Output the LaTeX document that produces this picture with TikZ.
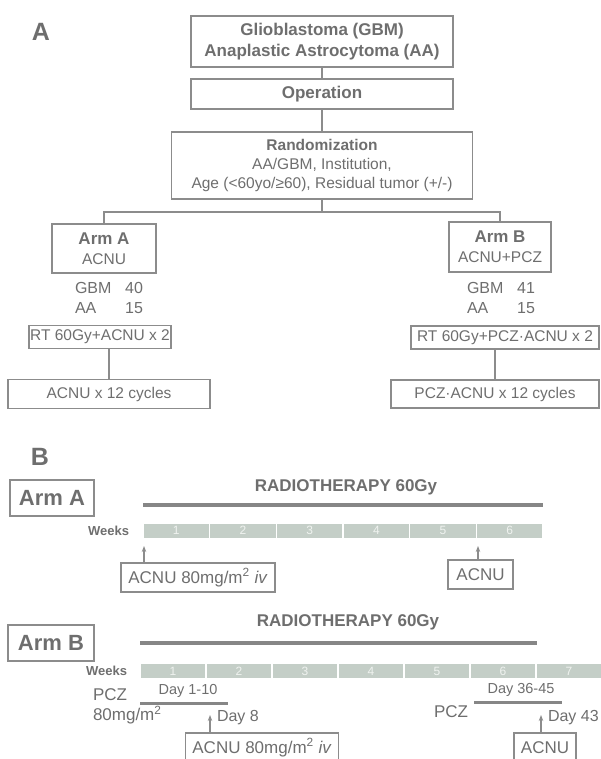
\documentclass[tikz,border=0pt]{standalone}
\usepackage{fontspec}
\setmainfont{Liberation Sans}
\usetikzlibrary{arrows.meta}
\definecolor{txt}{HTML}{6E6E6E}
\definecolor{ln}{HTML}{8C8C8C}
\definecolor{rtl}{HTML}{868686}
\definecolor{barc}{HTML}{C4CEC7}
\definecolor{digit}{HTML}{F0F3F0}
\begin{document}
\begin{tikzpicture}[x=1pt,y=-1pt,
  every node/.style={text=txt, inner sep=0pt, outer sep=0pt},
  boxed/.style={draw=ln, line width=1.7pt, align=center},
  conn/.style={draw=ln, line width=1.7pt},
  rtline/.style={draw=rtl, line width=4pt},
  pczline/.style={draw=rtl, line width=3pt},
  arr/.style={draw=ln, line width=1.1pt, -{Stealth[length=6pt,width=4.5pt]}},
  fbig/.style={font=\fontsize{25}{28}\selectfont\bfseries},
  ftitle/.style={font=\fontsize{17}{21}\selectfont\bfseries},
  fnorm/.style={font=\fontsize{15.5}{19}\selectfont},
  fmid/.style={font=\fontsize{16}{19}\selectfont},
  fdose/.style={font=\fontsize{17}{20}\selectfont},
  fday/.style={font=\fontsize{14.5}{17}\selectfont},
  fweeks/.style={font=\fontsize{13}{15}\selectfont\bfseries},
  fdigit/.style={font=\fontsize{12}{14}\selectfont, text=digit},
  farm/.style={font=\fontsize{22}{26}\selectfont\bfseries}
]
\useasboundingbox (0,0) rectangle (601,759);
\clip (0,0) rectangle (601,759);

% ---------------- Panel A ----------------
\node[fbig] (lblA) at (41,32) {A};

\node[boxed, ftitle, minimum width=262pt, minimum height=51pt] (b1) at (322,41.5)
  {Glioblastoma (GBM)\\Anaplastic Astrocytoma (AA)};
\node[boxed, ftitle, minimum width=262pt, minimum height=30pt] (b2) at (322,94) {Operation};
\node[boxed, fnorm, minimum width=301pt, minimum height=67pt] (b3) at (322,165.5)
  {{\bfseries Randomization}\\AA/GBM, Institution,\\Age (<60yo/≥60), Residual tumor (+/-)};

\node[boxed, fnorm, minimum width=104pt, minimum height=49pt] (armA) at (104,248.5)
  {{\fontsize{17}{20}\selectfont\bfseries Arm A}\\[1pt]ACNU};
\node[boxed, fnorm, minimum width=102pt, minimum height=50pt] (armB) at (500,247)
  {{\fontsize{17}{20}\selectfont\bfseries Arm B}\\[1pt]ACNU+PCZ};

\node[fmid, anchor=west] (gbmA) at (75,288) {GBM};
\node[fmid, anchor=east] (gbmAn) at (143,288) {40};
\node[fmid, anchor=west] (aaA) at (75,308) {AA};
\node[fmid, anchor=east] (aaAn) at (143,308) {15};
\node[fmid, anchor=west] (gbmB) at (467,288) {GBM};
\node[fmid, anchor=east] (gbmBn) at (535,288) {41};
\node[fmid, anchor=west] (aaB) at (467,308) {AA};
\node[fmid, anchor=east] (aaBn) at (535,308) {15};

\node[boxed, fnorm, minimum width=142pt, minimum height=23pt] (rtA) at (100,337) {RT 60Gy+ACNU x 2};
\node[boxed, fnorm, minimum width=202pt, minimum height=29pt] (cyA) at (109,394) {ACNU x 12 cycles};
\node[boxed, fnorm, minimum width=188pt, minimum height=23pt] (rtB) at (505,337.5) {RT 60Gy+PCZ·ACNU x 2};
\node[boxed, fnorm, minimum width=208pt, minimum height=28pt] (cyB) at (495,394) {PCZ·ACNU x 12 cycles};

\coordinate (jn) at (322,212);
\draw[conn] (b1.south) -- (b2.north);
\draw[conn] (b2.south) -- (b3.north);
\draw[conn] (b3.south) -- (jn);
\draw[conn] (armA.north) |- (jn) -| (armB.north);
\draw[conn] (cyA.north) -- (cyA.north |- rtA.south);
\draw[conn] (cyB.north) -- (cyB.north |- rtB.south);

% ---------------- Panel B : Arm A ----------------
\node[fbig] (lblB) at (40,457) {B};
\node[boxed, farm, minimum width=84pt, minimum height=36pt] (pArmA) at (52,498) {Arm A};
\node[ftitle] (rtTxtA) at (346,487) {RADIOTHERAPY 60Gy};
\coordinate (rtA0) at (143,505);
\coordinate (rtA1) at (543,505);
\draw[rtline] (rtA0) -- (rtA1);
\node[fweeks, anchor=east] (wkA) at (129,531) {Weeks};
\foreach \i in {0,...,5} {
  \pgfmathsetmacro{\xa}{143+\i*66.667}
  \pgfmathtruncatemacro{\n}{\i+1}
  \fill[barc] (\xa+0.7,523.5) rectangle (\xa+65.967,537.5);
  \node[fdigit] (wa\n) at (\xa+33.33,530.5) {\n};
}
\node[boxed, fdose, minimum width=154pt, minimum height=29pt] (acA1) at (198,577.5)
  {ACNU 80mg/m\textsuperscript{2} \textit{iv}};
\node[boxed, fdose, minimum width=65pt, minimum height=29pt] (acA2) at (480.5,574.5) {ACNU};
\coordinate (tA1) at (144,546);
\coordinate (tA2) at (478,546);
\draw[arr] (acA1.north -| tA1) -- (tA1);
\draw[arr] (acA2.north -| tA2) -- (tA2);

% ---------------- Panel B : Arm B ----------------
\node[boxed, farm, minimum width=86pt, minimum height=36pt] (pArmB) at (51,643) {Arm B};
\node[ftitle] (rtTxtB) at (348,622) {RADIOTHERAPY 60Gy};
\coordinate (rtB0) at (140,643);
\coordinate (rtB1) at (537,643);
\draw[rtline] (rtB0) -- (rtB1);
\node[fweeks, anchor=east] (wkB) at (127,671) {Weeks};
\foreach \i in {0,...,6} {
  \pgfmathsetmacro{\xb}{140+\i*66}
  \pgfmathtruncatemacro{\n}{\i+1}
  \fill[barc] (\xb+0.7,664) rectangle (\xb+65.3,678);
  \node[fdigit] (wb\n) at (\xb+33,671) {\n};
}
\node[fdose, anchor=west] (pcz1) at (93,695) {PCZ};
\node[fdose, anchor=west] (dose1) at (93,715) {80mg/m\textsuperscript{2}};
\node[fday] (d110) at (188,691) {Day 1-10};
\coordinate (p1a) at (140,703);
\coordinate (p1b) at (228,703);
\draw[pczline] (p1a) -- (p1b);
\node[fmid, anchor=west] (d8) at (217,718) {Day 8};
\node[boxed, fdose, minimum width=153pt, minimum height=29pt] (acB1) at (262,747.5)
  {ACNU 80mg/m\textsuperscript{2} \textit{iv}};
\coordinate (tB1) at (210,715);
\draw[arr] (acB1.north -| tB1) -- (tB1);

\node[fdose, anchor=east] (pcz2) at (468,712) {PCZ};
\node[fday] (d3645) at (521,690) {Day 36-45};
\coordinate (p2a) at (474,702);
\coordinate (p2b) at (562,702);
\draw[pczline] (p2a) -- (p2b);
\node[fmid, anchor=west] (d43) at (548,718) {Day 43};
\node[boxed, fdose, minimum width=62pt, minimum height=29pt] (acB2) at (545,747.5) {ACNU};
\coordinate (tB2) at (541,715);
\draw[arr] (acB2.north -| tB2) -- (tB2);
\end{tikzpicture}
\end{document}
